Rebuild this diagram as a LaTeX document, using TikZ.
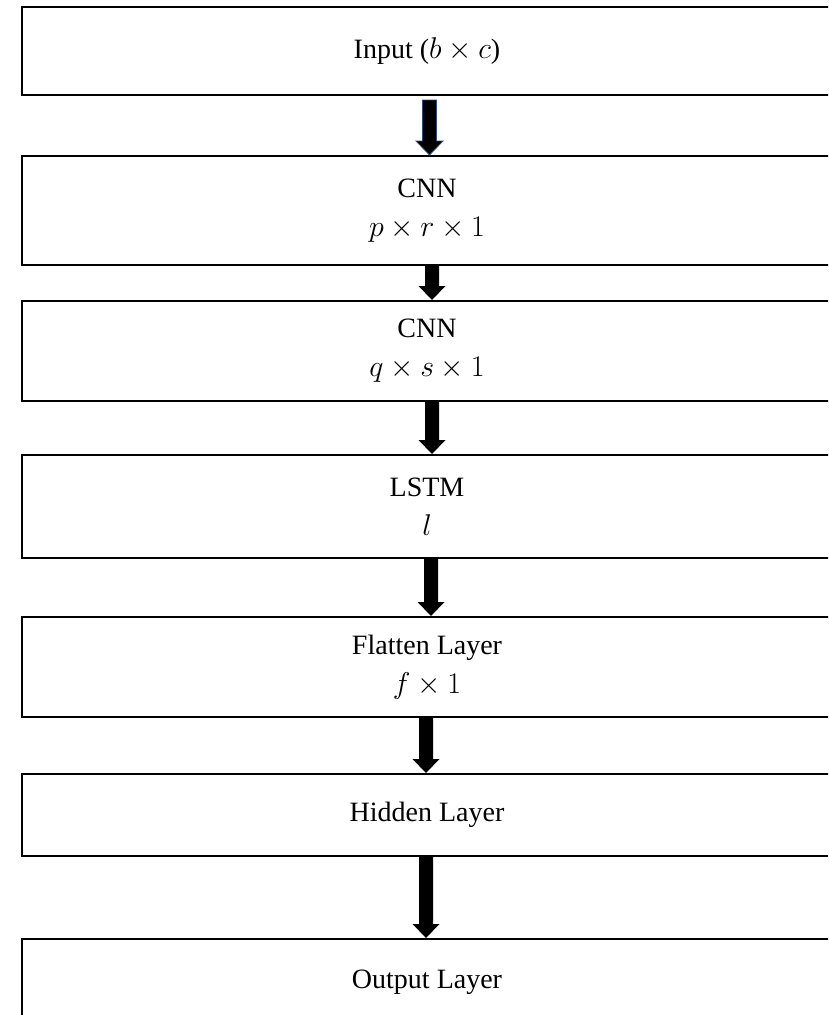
\RequirePackage{fix-cm}
\documentclass[tikz,border=0pt]{standalone}
\usepackage{fontspec}
\setmainfont{Liberation Serif}
\usetikzlibrary{calc}
\definecolor{arrowrim}{HTML}{2F4A7A}
% size used for the formula parts inside the boxes
\newcommand{\dimsize}[1]{{\fontsize{30}{39}\selectfont$#1$}}
\begin{document}
\begin{tikzpicture}[x=1pt,y=-1pt,
  layer/.style={draw=black, line width=2pt, minimum width=810pt, inner sep=0pt,
    align=center, font=\fontsize{28}{39}\selectfont},
  % block arrow drawn as a polygon from the start point down to the tip
  blockarrow/.style={to path={let \p1=(\tikztostart), \p2=(\tikztotarget) in
     (\x1-7pt,\y1) -- (\x1+7pt,\y1) -- (\x1+7pt,\y2+14pt) -- (\x1+13.5pt,\y2+14pt)
     -- (\x1,\y2) -- (\x1-13.5pt,\y2+14pt) -- (\x1-7pt,\y2+14pt) -- cycle}},
  flow/.style={blockarrow, fill=black, draw=none},
  rimflow/.style={blockarrow, fill=black, draw=arrowrim, line width=0.8pt}
]
\useasboundingbox (0,0) rectangle (828,1015);
\clip (0,0) rectangle (828,1015);
\fill[white] (0,0) rectangle (828,1015);

\node[layer, minimum height=88pt]  (in)   at (427,51)    {Input (\dimsize{b\times c})};
\node[layer, minimum height=109pt] (cnn1) at (427,210.5) {CNN\\\dimsize{p\times r\times 1}};
\node[layer, minimum height=100pt] (cnn2) at (427,351)   {CNN\\\dimsize{q\times s\times 1}};
\node[layer, minimum height=103pt] (lstm) at (427,506.5) {LSTM\\\dimsize{l}};
\node[layer, minimum height=100pt] (flat) at (427,667)   {Flatten Layer\\\dimsize{f\times 1}};
\node[layer, minimum height=82pt]  (hid)  at (427,815)   {Hidden Layer};
\node[layer, minimum height=86pt]  (out)  at (427,982)   {Output Layer};

\path[rimflow] ([xshift=2.5pt,yshift=-4pt]in.south) to ([xshift=2.5pt]cnn1.north);
\path[flow] ([xshift=5pt]cnn1.south) to ([xshift=5pt]cnn2.north);
\path[flow] ([xshift=5pt]cnn2.south) to ([xshift=5pt]lstm.north);
\path[flow] ([xshift=4pt]lstm.south) to ([xshift=4pt]flat.north);
\path[flow] ([xshift=-1pt]flat.south) to ([xshift=-1pt]hid.north);
\path[flow] ([xshift=-1pt]hid.south) to ([xshift=-1pt]out.north);
\end{tikzpicture}
\end{document}
